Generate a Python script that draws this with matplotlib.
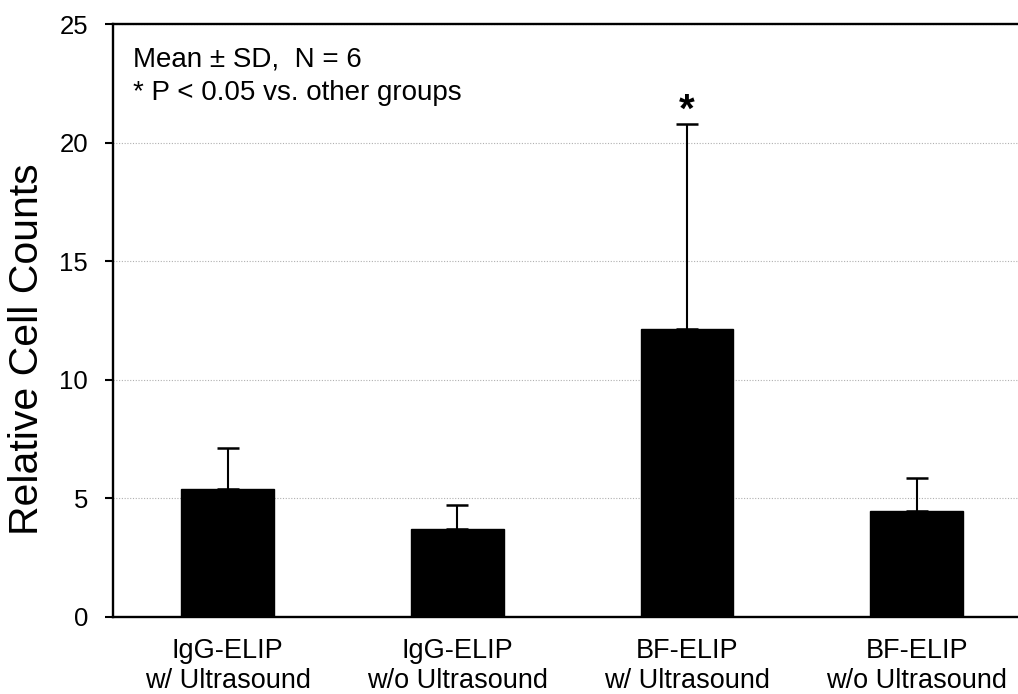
import matplotlib
matplotlib.use("Agg")
import matplotlib.pyplot as plt
import numpy as np

categories = ["IgG-ELIP\nw/ Ultrasound", "IgG-ELIP\nw/o Ultrasound",
              "BF-ELIP\nw/ Ultrasound", "BF-ELIP\nw/o Ultrasound"]
means = [5.40, 3.72, 12.13, 4.46]
sd = [1.71, 0.99, 8.67, 1.39]
yticks = [0, 5, 10, 15, 20, 25]
significant = [False, False, True, False]

plt.rcParams['font.family'] = ['Liberation Sans', 'DejaVu Sans']

W, H = 1018, 694
fig = plt.figure(figsize=(W / 100, H / 100), dpi=100)
left_px, right_px, bottom_px, top_px = 113, 1018, 617, 24
ax = fig.add_axes([left_px / W, (H - bottom_px) / H,
                   (right_px - left_px) / W, (bottom_px - top_px) / H])

x = np.arange(len(categories))
spacing_px = 229.6
ax.set_xlim(-0.5, -0.5 + (right_px - left_px) / spacing_px)
ax.set_ylim(0, 25)

ax.yaxis.grid(True, linestyle=(0, (1, 1.5)), color='#b0b0b0', linewidth=0.8)
ax.set_axisbelow(True)

ax.bar(x, means, width=0.405, color='black', edgecolor='black', zorder=3)
ax.errorbar(x, means, yerr=[np.zeros(len(sd)), sd], fmt='none',
            ecolor='black', elinewidth=1.5, capsize=8, capthick=1.8, zorder=2)

for xi, m, s, sig in zip(x, means, sd, significant):
    if sig:
        ax.annotate('*', xy=(xi, m + s), xytext=(0, 1), textcoords='offset points',
                    ha='center', va='baseline', fontsize=29, fontweight='bold')

ax.set_yticks(yticks)
ax.set_yticklabels([str(t) for t in yticks], fontsize=18.5)
ax.set_xticks(x)
ax.set_xticklabels(categories, fontsize=19.5, linespacing=1.2)
ax.tick_params(axis='x', length=0, pad=15)
ax.tick_params(axis='y', length=6, width=1.5, direction='out', pad=12)

for side in ['left', 'bottom', 'top']:
    ax.spines[side].set_linewidth(1.7)
ax.spines['right'].set_visible(False)

ax.set_ylabel('Relative Cell Counts', fontsize=29.5)
ax.yaxis.set_label_coords(-(left_px - 46) / (right_px - left_px),
                          (bottom_px - 349) / (bottom_px - top_px))

ax.text(0.022, 0.962, 'Mean \u00b1 SD,  N = 6\n* P < 0.05 vs. other groups',
        transform=ax.transAxes, ha='left', va='top', fontsize=20, linespacing=1.35)

fig.savefig('out.png', dpi=100)
